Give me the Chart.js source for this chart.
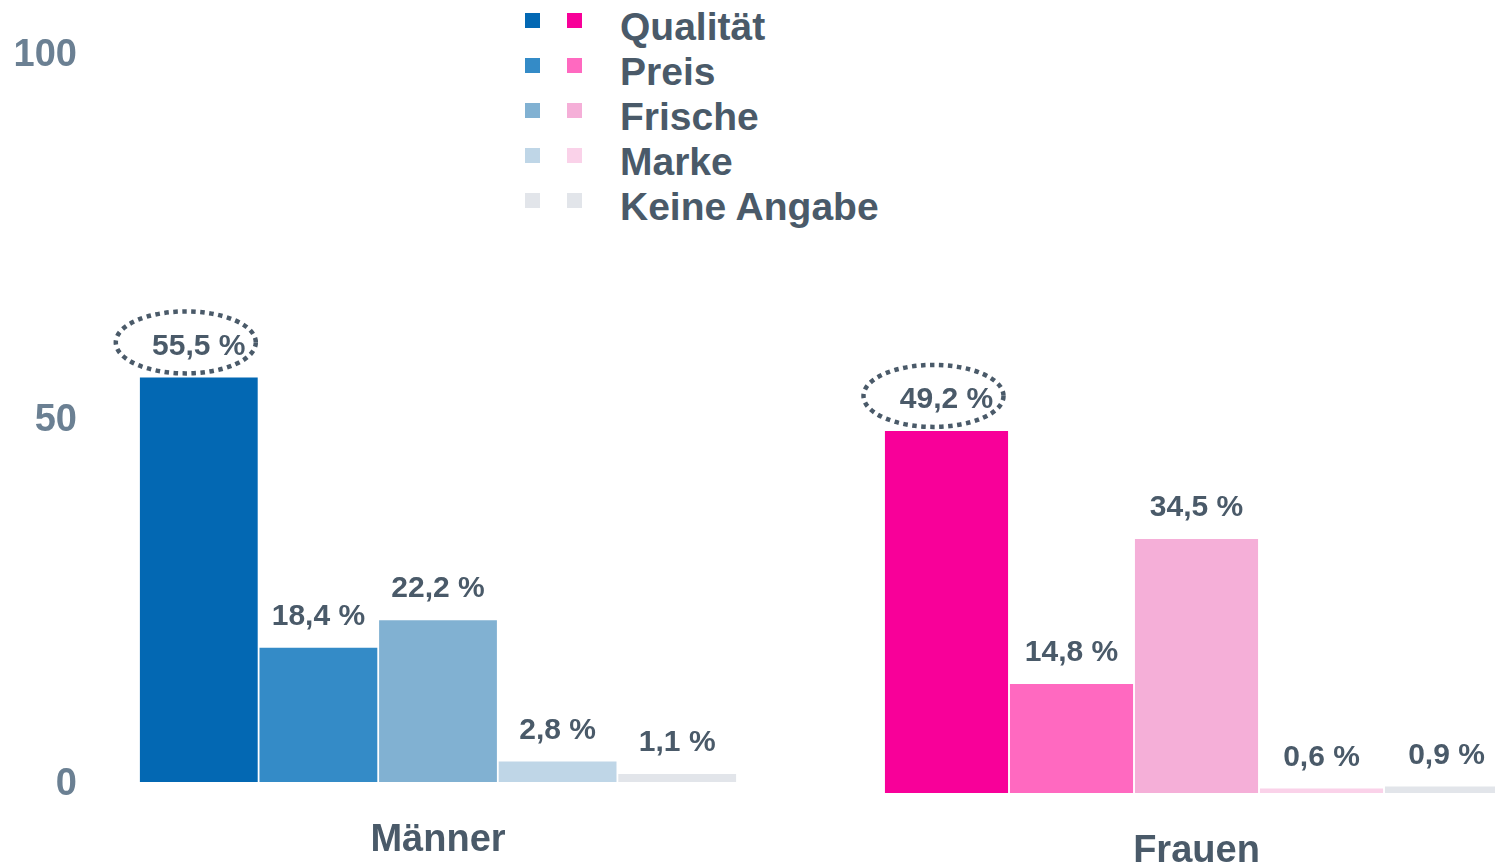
<!DOCTYPE html>
<html lang="de">
<head>
<meta charset="utf-8">
<title>Qualität, Preis, Frische – Männer und Frauen</title>
<script src="https://cdn.jsdelivr.net/npm/chart.js@4.4.1/dist/chart.umd.min.js"></script>
<style>
  html, body { margin: 0; padding: 0; background: #fff; overflow: hidden; width: 1495px; height: 867px; }
  body { position: relative; font-family: "Liberation Sans", Arial, sans-serif; }
  #maenner { position: absolute; left: 0; top: 0; }
  #frauen { position: absolute; left: 760px; top: 0; }
  .row { position: absolute; left: 525px; height: 45px; line-height: 45px; font-size: 39px; font-weight: bold; color: #4a5a69; white-space: nowrap; }
  .sq { position: absolute; top: 8.5px; width: 15px; height: 15px; }
  .txt { position: absolute; left: 95px; top: 0; }
</style>
</head>
<body>
<div id="legend"></div>
<canvas id="maenner" width="760" height="867"></canvas>
<canvas id="frauen" width="760" height="880"></canvas>
<script>
// data
const categories = ['Qualität', 'Preis', 'Frische', 'Marke', 'Keine Angabe'];
const groupLabels = ['Männer', 'Frauen'];
const maennerValues = [55.5, 18.4, 22.2, 2.8, 1.1];
const frauenValues = [49.2, 14.8, 34.5, 0.6, 0.9];
const yTicks = [0, 50, 100];

const maennerColors = ['#0368b3', '#348bc7', '#81b1d2', '#bfd6e7', '#e2e5ea'];
const frauenColors = ['#f80099', '#ff69c0', '#f5afd8', '#fad2e9', '#e2e5ea'];
const TEXT = '#4a5a69';
const TICK = '#6b8093';
const FONT = '"Liberation Sans", Arial, sans-serif';

// legend: two squares per row (men / women), then the category
const legend = document.getElementById('legend');
categories.forEach(function(cat, i) {
    const row = document.createElement('div');
    row.className = 'row';
    row.style.top = (4 + i * 45) + 'px';
    row.innerHTML =
        '<span class="sq" style="left:0;background:' + maennerColors[i] + '"></span>' +
        '<span class="sq" style="left:42px;background:' + frauenColors[i] + '"></span>' +
        '<span class="txt">' + cat + '</span>';
    legend.appendChild(row);
});

function fmt(v) {
    return v.toFixed(1).replace('.', ',') + ' %';
}

// value labels above the bars, dotted ring round the biggest one
const valueLabels = {
    id: 'valueLabels',
    afterDatasetsDraw(chart) {
        const ctx = chart.ctx;
        const meta = chart.getDatasetMeta(0);
        const values = chart.data.datasets[0].data;
        ctx.save();
        ctx.font = 'bold 30px ' + FONT;
        ctx.fillStyle = TEXT;
        ctx.textAlign = 'center';
        ctx.textBaseline = 'middle';
        meta.data.forEach(function(bar, i) {
            ctx.fillText(fmt(values[i]), bar.x, bar.y - 31);
        });
        const maxIdx = values.indexOf(Math.max.apply(null, values));
        const top = meta.data[maxIdx];
        ctx.beginPath();
        ctx.ellipse(top.x - 13, top.y - 35, 70, 31, 0, 0, Math.PI * 2);
        ctx.lineWidth = 4.5;
        ctx.setLineDash([4.5, 4.5]);
        ctx.strokeStyle = TEXT;
        ctx.stroke();
        ctx.restore();
    }
};

function makeChart(id, values, colors, group, showAxis, padding) {
    return new Chart(document.getElementById(id), {
        type: 'bar',
        data: {
            labels: categories,
            datasets: [{
                data: values,
                backgroundColor: colors,
                borderWidth: 0,
                barPercentage: 0.985,
                categoryPercentage: 1
            }]
        },
        options: {
            responsive: false,
            animation: false,
            layout: { padding: padding },
            plugins: { legend: { display: false }, tooltip: { enabled: false } },
            scales: {
                x: {
                    grid: { display: false, drawTicks: false },
                    border: { display: false },
                    ticks: { display: false },
                    title: {
                        display: true,
                        text: group,
                        color: TEXT,
                        font: { family: FONT, size: 38, weight: 'bold' },
                        padding: { top: 36, bottom: 0 }
                    }
                },
                y: {
                    display: showAxis,
                    min: 0,
                    max: 100,
                    grid: { display: false, drawTicks: false },
                    border: { display: false },
                    afterBuildTicks: function(scale) {
                        scale.ticks = yTicks.map(function(v) { return { value: v }; });
                    },
                    afterFit: function(scale) {
                        if (!showAxis) return;
                        scale.width = 139;
                        // keep the big label gap from pushing the plot down
                        scale.paddingTop = 0;
                        scale.paddingBottom = 0;
                    },
                    ticks: {
                        color: TICK,
                        padding: 62,
                        labelOffset: 3,
                        font: { family: FONT, size: 38, weight: 'bold' }
                    }
                }
            }
        },
        plugins: [valueLabels]
    });
}

makeChart('maenner', maennerValues, maennerColors, groupLabels[0], true,
    { top: 53, bottom: 3.4, left: 0, right: 23 });
makeChart('frauen', frauenValues, frauenColors, groupLabels[1], false,
    { top: 57, bottom: 5.4, left: 124, right: 11 });
</script>
</body>
</html>
